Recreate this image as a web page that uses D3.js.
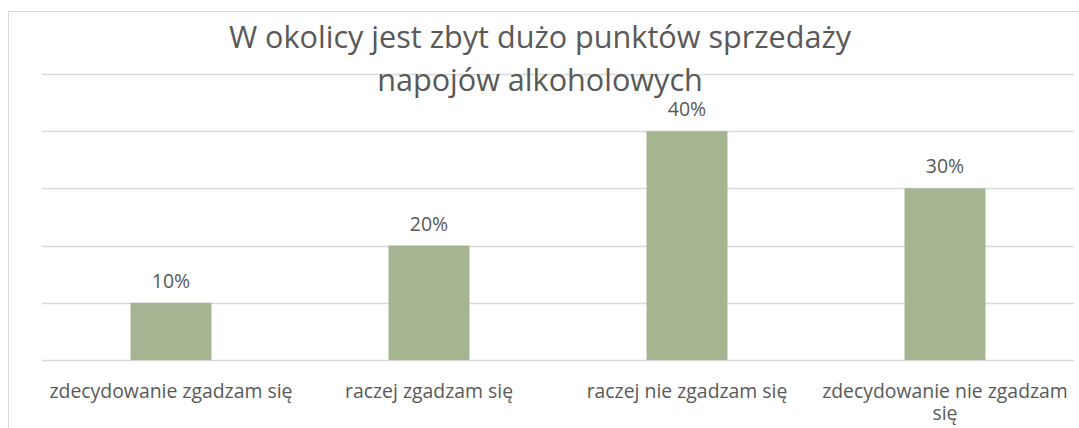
<!DOCTYPE html>
<html>
<head>
<meta charset="utf-8">
<script src="https://cdn.jsdelivr.net/npm/d3@7"></script>
<style>
  body { margin: 0; background: #fff; }
  svg { display: block; }
</style>
</head>
<body>
<svg class="canvas" width="1079" height="428"></svg>
<script>
const categories = [
  "zdecydowanie zgadzam się",
  "raczej zgadzam się",
  "raczej nie zgadzam się",
  "zdecydowanie nie zgadzam się"
];
const values = [0.10, 0.20, 0.40, 0.30];
const yTicks = [0, 0.1, 0.2, 0.3, 0.4, 0.5];
const titleLines = ["W okolicy jest zbyt dużo punktów sprzedaży", "napojów alkoholowych"];

const font = "'Open Sans', sans-serif";
const textColor = "#595959";
const gridColor = "#d9d9d9";

const svg = d3.select(".canvas");

// chart frame (runs off the right and bottom of the window)
svg.append("rect")
  .attr("x", 8.5).attr("y", 11.5)
  .attr("width", 1200).attr("height", 600)
  .attr("fill", "#fff")
  .attr("stroke", gridColor);

const x = d3.scaleBand()
  .domain(categories)
  .range([42, 1074])
  .paddingInner(0.686)
  .paddingOuter(0.343);

const band = d3.scaleBand().domain(categories).range([42, 1074]);

const y = d3.scaleLinear().domain([0, 0.5]).range([360, 74]);

// gridlines
svg.append("g")
  .selectAll("line")
  .data(yTicks)
  .enter()
  .append("line")
  .attr("x1", 42)
  .attr("x2", 1074)
  .attr("y1", d => Math.round(y(d)) + 0.5)
  .attr("y2", d => Math.round(y(d)) + 0.5)
  .style("stroke", gridColor)
  .style("stroke-width", 1.3);

// bars
svg.append("g")
  .selectAll("rect")
  .data(values)
  .enter()
  .append("rect")
  .attr("x", (d, i) => x(categories[i]))
  .attr("width", x.bandwidth())
  .attr("y", d => y(d))
  .attr("height", d => y(0) - y(d))
  .attr("fill", "#a5b592");

// value labels
svg.append("g")
  .selectAll("text")
  .data(values)
  .enter()
  .append("text")
  .attr("x", (d, i) => x(categories[i]) + x.bandwidth() / 2)
  .attr("y", d => y(d) - 15)
  .attr("text-anchor", "middle")
  .style("font-family", font)
  .style("font-size", "19.5px")
  .style("fill", textColor)
  .text(d => d3.format(".0%")(d));

// category labels, wrapped to the band width
const catG = svg.append("g")
  .selectAll("text")
  .data(categories)
  .enter()
  .append("text")
  .attr("x", d => band(d) + band.bandwidth() / 2)
  .attr("y", 398)
  .attr("text-anchor", "middle")
  .style("font-family", font)
  .style("font-size", "19.4px")
  .style("fill", textColor);

catG.each(function(d) {
  const t = d3.select(this);
  const words = d.split(" ");
  let line = [];
  let tspan = t.append("tspan").attr("x", t.attr("x")).attr("dy", 0);
  words.forEach(w => {
    line.push(w);
    tspan.text(line.join(" "));
    if (tspan.node().getComputedTextLength() > band.bandwidth() - 4 && line.length > 1) {
      line.pop();
      tspan.text(line.join(" "));
      line = [w];
      tspan = t.append("tspan").attr("x", t.attr("x")).attr("dy", 22).text(w);
    }
  });
});

// title
svg.append("g")
  .selectAll("text")
  .data(titleLines)
  .enter()
  .append("text")
  .attr("x", 540)
  .attr("y", (d, i) => 48 + i * 43)
  .attr("text-anchor", "middle")
  .style("font-family", font)
  .style("font-size", "30.6px")
  .style("fill", textColor)
  .text(d => d);
</script>
</body>
</html>
